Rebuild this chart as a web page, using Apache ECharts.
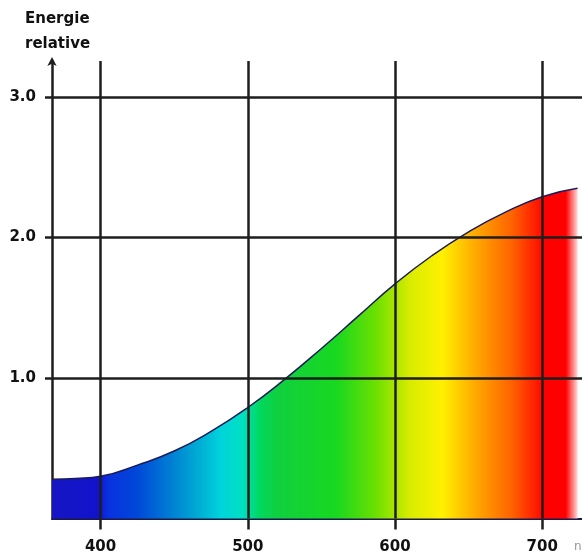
<!DOCTYPE html>
<html>
<head>
<meta charset="utf-8">
<script src="https://cdn.jsdelivr.net/npm/echarts@6/dist/echarts.min.js"></script>
<style>
html,body{margin:0;padding:0;background:#fff;}
#chart{width:582px;height:560px;}
</style>
</head>
<body>
<div id="chart"></div>
<script>
// Data
const wavelengths = [367, 383, 400, 425, 450, 475, 500, 525, 550, 575, 600, 625, 650, 675, 700, 724];
const energy      = [0.28, 0.285, 0.30, 0.38, 0.48, 0.62, 0.79, 0.99, 1.21, 1.44, 1.67, 1.87, 2.04, 2.18, 2.29, 2.35];
const xTicks = [400, 500, 600, 700];
const yTicks = [1, 2, 3];
const titleLines = ['Energie', 'relative'];
const unitLabel = 'nm';

// spectrum colour stops (wavelength, colour)
const spectrumNm     = [367, 398, 405, 425, 445, 468, 482, 497, 502, 508, 520, 560, 588, 610, 632, 655, 680, 695, 702, 716, 724];
const spectrumColors = ['#1616c4', '#1212cc', '#0a30e0', '#0048d8', '#0078d4', '#00b0d4', '#00d4dc', '#00e0c0',
                        '#00dc90', '#00d860', '#10d040', '#18d820', '#70e000', '#d8ec00', '#fff000', '#ffa800',
                        '#ff6000', '#ff2000', '#ff0000', '#ff0000', '#ffd8d8'];

const xMin = 367, xMax = 727;
const fillStart = wavelengths[0], fillEnd = wavelengths[wavelengths.length - 1];
const stops = spectrumNm.map((nm, i) => ({
  offset: Math.min(1, Math.max(0, (nm - fillStart) / (fillEnd - fillStart))),
  color: spectrumColors[i]
}));

const chart = echarts.init(document.getElementById('chart'), null, {renderer: 'canvas'});
const gridColor = '#1e1e1e';
const fontFam = 'DejaVu Sans';

chart.setOption({
  animation: false,
  backgroundColor: '#ffffff',
  title: {
    text: titleLines.join('\n'),
    left: 20, top: 2,
    textStyle: {fontFamily: fontFam, fontSize: 15, fontWeight: 'bold', color: '#111', lineHeight: 25}
  },
  graphic: [{
    type: 'text', left: 574, top: 541,
    style: {text: unitLabel, fontFamily: fontFam, fontSize: 12, fill: '#999'}
  }],
  grid: {left: 52, right: 0, top: 61, bottom: 41.5},
  xAxis: {
    type: 'value', min: xMin, max: xMax,
    axisLine: {show: true, lineStyle: {color: '#1a1a4a', width: 2}},
    axisTick: {show: true, customValues: xTicks, length: 11, lineStyle: {color: gridColor, width: 2.5}},
    axisLabel: {customValues: xTicks, margin: 21, fontFamily: fontFam, fontSize: 15, fontWeight: 'bold', color: '#111'},
    splitLine: {show: false}
  },
  yAxis: {
    type: 'value', min: 0, max: 3.256,
    axisLine: {show: true, symbol: ['none', 'arrow'], symbolSize: [7, 9], symbolOffset: [0, 4],
      lineStyle: {color: gridColor, width: 2.5}},
    axisTick: {show: true, customValues: yTicks, length: 7, lineStyle: {color: gridColor, width: 2.5}},
    axisLabel: {customValues: yTicks, margin: 16, fontFamily: fontFam, fontSize: 15, fontWeight: 'bold', color: '#111',
      formatter: v => v.toFixed(1)},
    splitLine: {show: false}
  },
  series: [{
    type: 'line',
    data: wavelengths.map((w, i) => [w, energy[i]]),
    smooth: 0.5,
    showSymbol: false,
    lineStyle: {color: '#1b1b5c', width: 1.5},
    areaStyle: {
      opacity: 1,
      color: {type: 'linear', x: 0, y: 0, x2: 1, y2: 0, colorStops: stops}
    },
    markLine: {
      silent: true,
      symbol: ['none', 'none'],
      label: {show: false},
      lineStyle: {color: gridColor, width: 2.5, type: 'solid'},
      data: xTicks.map(v => ({xAxis: v})).concat(yTicks.map(v => ({yAxis: v})))
    }
  }]
});
</script>
</body>
</html>
